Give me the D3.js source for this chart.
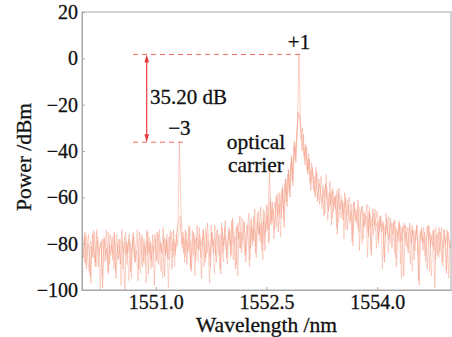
<!DOCTYPE html>
<html><head><meta charset="utf-8">
<script src="https://cdn.jsdelivr.net/npm/d3@7"></script>
<style>
html,body{margin:0;padding:0;background:#fff;}
</style></head><body>
<svg id="c" width="452" height="337"></svg>
<script>
// ---- data ----
const xStartA = 1550.00, xStartB = 1550.01, xStartC = 1550.015, xStep = 0.02;
const traceA = [
-78,-86,-75,-91,-80,-84,-97,-76,-83,-88,
-74,-90,-81,-79,-99,-77,-85,-82,-93,-76,
-80,-87,-75,-95,-83,-78,-89,-74,-86,-100,
-79,-84,-76,-92,-81,-77,-88,-83,-96,-75,
-82,-90,-78,-85,-74,-93,-80,-87,-76,-98,
-81,-75,-89,-79,-84,-73,-94,-78,-86,-77,
-82,-91,-74,-85,-79,-72,-36.2,-66,-77,-84,
-74,-89,-79,-73,-92,-81,-76,-87,-72,-83,
-78,-95,-74,-82,-86,-71,-80,-90,-75,-84,
-72,-88,-79,-76,-93,-73,-81,-70,-86,-77,
-74,-85,-69,-80,-91,-72,-78,-68,-84,-76,
-71,-88,-74,-67,-82,-73,-79,-65,-86,-71,
-76,-64,-80,-70,-83,-63,-74,-48.6,-72,-62,
-78,-66,-60,-75,-58,-69,-56,-73,-52,-64,
-48,-60,-42,-55,-36,-45,-28,1.7,-27,-40,
-33,-46,-38,-50,-43,-57,-47,-52,-60,-49,
-55,-63,-51,-58,-68,-54,-61,-66,-53,-72,
-57,-63,-59,-76,-56,-65,-61,-70,-58,-67,
-74,-60,-64,-79,-62,-68,-71,-61,-83,-66,
-64,-73,-69,-63,-77,-67,-85,-65,-72,-70,
-66,-80,-68,-75,-71,-88,-67,-74,-78,-69,
-82,-72,-70,-90,-76,-71,-79,-73,-94,-72,
-77,-84,-71,-80,-74,-87,-76,-72,-96,-78,
-73,-83,-75,-79,-91,-72,-81,-77,-74,-99,
-76,-85,-73,-80,-88,-74,-78,-93,-75,-82,-79
];
const traceB = [
-83,-77,-89,-80,-76,-94,-81,-86,-75,-90,
-79,-84,-100,-78,-82,-88,-74,-92,-80,-85,
-77,-91,-83,-76,-87,-81,-98,-79,-84,-75,
-89,-78,-82,-95,-76,-86,-80,-74,-91,-83,
-77,-88,-81,-97,-75,-84,-79,-90,-82,-76,
-87,-80,-74,-92,-83,-78,-85,-76,-99,-81,
-75,-86,-79,-83,-73,-70,-68,-80,-75,-88,
-78,-84,-72,-90,-80,-75,-94,-77,-82,-73,
-86,-79,-74,-88,-76,-83,-97,-72,-81,-78,
-85,-74,-80,-91,-71,-84,-77,-79,-89,-73,
-81,-70,-87,-76,-73,-94,-75,-82,-69,-79,
-85,-72,-77,-90,-70,-81,-68,-84,-74,-66,
-79,-71,-87,-66,-75,-68,-80,-62,-70,-65,
-74,-59,-68,-63,-77,-57,-66,-54,-62,-50,
-58,-45,-53,-38,-44,-32,-23,-25,-35,-30,
-42,-37,-48,-41,-54,-45,-51,-58,-47,-62,
-52,-57,-65,-55,-60,-50,-70,-58,-63,-56,
-66,-60,-73,-58,-64,-69,-62,-78,-60,-68,
-63,-71,-66,-81,-62,-70,-65,-75,-68,-64,
-78,-67,-70,-86,-66,-73,-69,-76,-65,-82,
-70,-74,-68,-91,-72,-77,-69,-84,-73,-71,
-76,-70,-86,-74,-79,-72,-95,-75,-71,-81,
-73,-78,-89,-72,-76,-83,-74,-80,-98,-75,
-79,-73,-85,-77,-72,-92,-76,-81,-74,-87,
-78,-75,-84,-73,-90,-77,-80,-74,-95,-79
];
const traceC = [
-81,-88,-76,-84,-92,-79,-86,-74,-90,-82,
-77,-85,-80,-94,-78,-83,-87,-75,-89,-81,
-84,-76,-92,-80,-86,-78,-83,-91,-77,-85,
-80,-96,-79,-84,-75,-88,-82,-78,-86,-93,
-76,-83,-89,-79,-85,-77,-91,-81,-84,-78,
-88,-76,-83,-80,-95,-77,-84,-79,-87,-74,
-83,-78,-90,-76,-81,-74,-71,-82,-77,-86,
-75,-83,-79,-91,-74,-85,-78,-82,-88,-76,
-81,-77,-90,-73,-84,-79,-86,-75,-82,-93,
-78,-74,-85,-80,-76,-88,-73,-83,-79,-75,
-86,-72,-80,-77,-89,-71,-82,-75,-79,-70,
-84,-76,-72,-87,-69,-78,-74,-81,-67,-76,
-72,-83,-65,-77,-70,-64,-79,-60,-71,-66,
-62,-73,-58,-67,-61,-55,-70,-52,-59,-48,
-56,-43,-50,-36,-41,-31,-24,-26,-34,-38,
-44,-39,-49,-44,-53,-48,-57,-51,-55,-61,
-54,-59,-62,-57,-67,-55,-61,-64,-58,-69,
-60,-65,-57,-71,-63,-59,-67,-62,-74,-61,
-66,-70,-63,-76,-65,-68,-73,-64,-70,-80,
-66,-72,-68,-75,-64,-83,-70,-67,-74,-71,
-78,-69,-73,-70,-86,-72,-76,-68,-80,-74,
-71,-84,-73,-77,-70,-89,-74,-72,-78,-75,
-82,-73,-76,-92,-74,-79,-72,-85,-76,-74,
-80,-77,-88,-73,-78,-75,-94,-76,-83,-73,
-77,-86,-75,-79,-82,-74,-91,-76,-78,-81
];
const xTicks = [1551.0, 1552.5, 1554.0];
const yTicks = [-100, -80, -60, -40, -20, 0, 20];
const peakPlus1 = {x: 1552.94, y: 1.7, label: "+1"};
const peakMinus3 = {x: 1551.32, y: -36.2, label: "\u22123"};
const carrierLabel = ["optical", "carrier"];
const diffLabel = "35.20 dB";
const xLabel = "Wavelength /nm", yLabel = "Power /dBm";

// ---- drawing ----
const FONT = '"Liberation Serif","DejaVu Serif",serif';
const svg = d3.select("#c");
const L = 82, R = 451, T = 12, B = 290;
const x = d3.scaleLinear().domain([1550, 1555]).range([L, R]);
const y = d3.scaleLinear().domain([-100, 20]).range([B, T]);
const axisCol = "#a8a8a8";

svg.append("clipPath").attr("id","pc").append("rect")
  .attr("x", L).attr("y", T).attr("width", R-L).attr("height", B-T);

const line = d3.line().x(d=>x(d[0])).y(d=>y(d[1]));
const g = svg.append("g").attr("clip-path","url(#pc)");
[[traceC,xStartC,"#f7a890"],[traceB,xStartB,"#f59a80"],[traceA,xStartA,"#f28a70"]].forEach(([tr,x0,col])=>{
  const pts = tr.map((v,i)=>[x0 + i*xStep, v]);
  g.append("path").attr("d", line(pts)).attr("fill","none")
    .attr("stroke",col).attr("stroke-opacity",0.5).attr("stroke-width",0.8);
});

// frame
svg.append("rect").attr("x",L).attr("y",T).attr("width",R-L).attr("height",B-T)
  .attr("fill","none").attr("stroke",axisCol).attr("stroke-width",1);

function styleText(sel, size){
  return sel.style("font-size",size+"px").style("font-family",FONT).style("fill","#111")
    .style("stroke","#111").style("stroke-width","0.3px");
}
// axes
const xa = svg.append("g").attr("transform",`translate(0,${B})`)
  .call(d3.axisBottom(x).tickValues(xTicks).tickFormat(d3.format(".1f")).tickSizeInner(-3).tickSizeOuter(0).tickPadding(5));
const ya = svg.append("g").attr("transform",`translate(${L},0)`)
  .call(d3.axisLeft(y).tickValues(yTicks).tickSizeInner(-3).tickSizeOuter(0).tickPadding(4));
[xa, ya].forEach(a=>{
  a.select(".domain").attr("stroke",axisCol);
  a.selectAll(".tick line").attr("stroke",axisCol);
  styleText(a.selectAll("text"), 20);
});

function txt(xp, yp, s, size, anchor){
  return styleText(svg.append("text").attr("x",xp).attr("y",yp).attr("text-anchor",anchor||"start"), size).text(s);
}
// axis labels
txt((L+R)/2, 332, xLabel, 21.5, "middle");
styleText(svg.append("text").attr("transform",`translate(31,${157}) rotate(-90)`).attr("text-anchor","middle"), 21.5).text(yLabel);

// dashed reference lines
const dashCol = "#ef6a60";
svg.append("line").attr("x1",133).attr("x2",x(peakPlus1.x)+4)
  .attr("y1",y(peakPlus1.y)).attr("y2",y(peakPlus1.y))
  .attr("stroke",dashCol).attr("stroke-width",1).attr("stroke-dasharray","5,4");
svg.append("line").attr("x1",133).attr("x2",x(peakMinus3.x)+5)
  .attr("y1",y(peakMinus3.y)).attr("y2",y(peakMinus3.y))
  .attr("stroke",dashCol).attr("stroke-width",1).attr("stroke-dasharray","5,4");

// double arrow
const ax = 146.7, y1 = y(peakPlus1.y), y2 = y(peakMinus3.y);
const arrCol = "#e83a3a";
svg.append("line").attr("x1",ax).attr("x2",ax).attr("y1",y1+5).attr("y2",y2-5)
  .attr("stroke",arrCol).attr("stroke-width",1.2);
svg.append("path").attr("d",`M${ax},${y1} L${ax-2.3},${y1+8} L${ax+2.3},${y1+8} Z`).attr("fill",arrCol);
svg.append("path").attr("d",`M${ax},${y2} L${ax-2.3},${y2-8} L${ax+2.3},${y2-8} Z`).attr("fill",arrCol);

// annotations
txt(150, 104, diffLabel, 21);
txt(x(peakPlus1.x), 49, peakPlus1.label, 21, "middle");
txt(x(peakMinus3.x), 135, peakMinus3.label, 21, "middle");
txt(256, 149, carrierLabel[0], 21.5, "middle");
txt(256, 172, carrierLabel[1], 21.5, "middle");
</script>
</body></html>
